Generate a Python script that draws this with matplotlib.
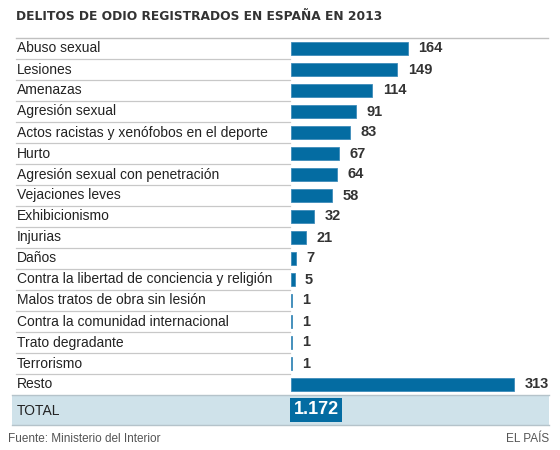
import matplotlib.pyplot as plt
import matplotlib.transforms as mtransforms
from matplotlib.patches import Rectangle

categorias = ['Abuso sexual', 'Lesiones', 'Amenazas', 'Agresión sexual',
              'Actos racistas y xenófobos en el deporte', 'Hurto',
              'Agresión sexual con penetración', 'Vejaciones leves',
              'Exhibicionismo', 'Injurias', 'Daños',
              'Contra la libertad de conciencia y religión',
              'Malos tratos de obra sin lesión',
              'Contra la comunidad internacional', 'Trato degradante',
              'Terrorismo', 'Resto']
valores = [164, 149, 114, 91, 83, 67, 64, 58, 32, 21, 7, 5, 1, 1, 1, 1, 313]
total_txt = '1.172'
titulo = 'DELITOS DE ODIO REGISTRADOS EN ESPAÑA EN 2013'
fuente = 'Fuente: Ministerio del Interior'
firma = 'EL PAÍS'

W, H = 560, 450
azul = '#046ca2'
fig = plt.figure(figsize=(W / 100, H / 100), dpi=100)
plt.rcParams['font.family'] = ['Liberation Sans', 'DejaVu Sans']

# pixel helpers (origen arriba a la izquierda)
def fx(px):
    return px / W

def fy(py):
    return 1 - py / H

# ejes de las barras: x=0 en 291px, 0.713 px por unidad
x0, x1 = 291, 548
y_top, y_bot = 38, 395
ax = fig.add_axes([fx(x0), fy(y_bot), fx(x1 - x0), (y_bot - y_top) / H])
ax.set_xlim(0, (x1 - x0) / 0.713)
ax.set_ylim(len(valores) - 0.5, -0.5)
ax.axis('off')

pos = range(len(valores))
ax.barh(pos, valores, height=0.6, color=azul, edgecolor='#3f8cba', linewidth=0.6)
for i, v in zip(pos, valores):
    ax.annotate(str(v), (v, i), xytext=(7.5, 0), textcoords='offset points',
                ha='left', va='center', fontsize=10.5, fontweight='bold', color='#333333')

# etiquetas y separadores a la izquierda
tr = mtransforms.blended_transform_factory(fig.transFigure, ax.transData)
for i, cat in enumerate(categorias):
    fig.text(fx(17), i, cat, transform=tr, ha='left', va='center',
             fontsize=10, color='#222222')
for i in range(len(categorias) - 1):
    ax.plot([fx(16), fx(290)], [i + 0.5, i + 0.5], transform=tr,
            color='#c8c8c8', lw=0.9, clip_on=False)

# linea superior
fig.add_artist(plt.Line2D([fx(16), fx(548)], [fy(38), fy(38)], color='#c0c0c0', lw=1))

# titulo
fig.text(fx(16), fy(16), titulo, ha='left', va='center', fontsize=8.8,
         fontweight='bold', color='#333333', family='DejaVu Sans')

# fila total
fig.add_artist(Rectangle((fx(12), fy(425)), fx(549 - 12), (425 - 395) / H,
                         facecolor='#cfe2ea', edgecolor='none'))
fig.add_artist(plt.Line2D([fx(12), fx(549)], [fy(395), fy(395)], color='#b5c3ca', lw=1))
fig.add_artist(plt.Line2D([fx(12), fx(549)], [fy(425), fy(425)], color='#b5c3ca', lw=1))
fig.text(fx(17), fy(411), 'TOTAL', ha='left', va='center', fontsize=10, color='#222222')
fig.add_artist(Rectangle((fx(290), fy(422)), fx(342 - 290), (422 - 398) / H,
                         facecolor=azul, edgecolor='none'))
fig.text(fx(316), fy(410), total_txt, ha='center', va='center', fontsize=13,
         fontweight='bold', color='white')

# pie
fig.text(fx(8), fy(439), fuente, ha='left', va='center', fontsize=8.5, color='#555555')
fig.text(fx(549), fy(439), firma, ha='right', va='center', fontsize=8.5, color='#555555')

fig.savefig('out.png', dpi=100, facecolor='white')
